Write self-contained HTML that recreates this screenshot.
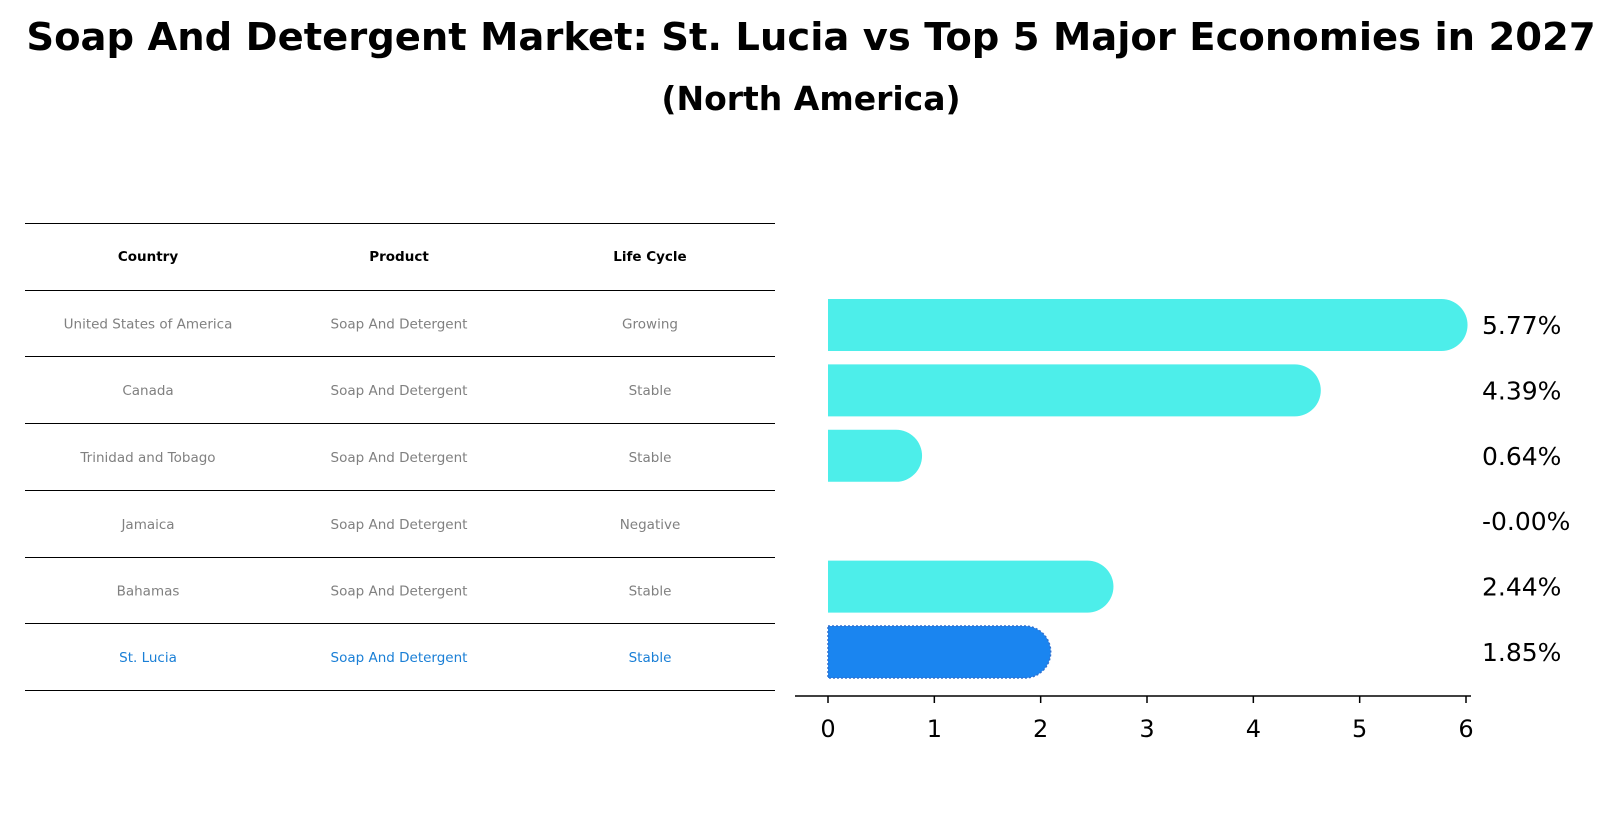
<!DOCTYPE html>
<html><head><meta charset="utf-8">
<style>
body{margin:0;background:#fff;font-family:"Liberation Sans","DejaVu Sans",sans-serif;}
#wrap{position:relative;width:1622px;height:823px;overflow:hidden;}
</style></head>
<body>
<div id="wrap">
<svg id="svg" width="1622" height="823" style="font-family:'DejaVu Sans','Liberation Sans',sans-serif">
<text x="811" y="50" text-anchor="middle" font-size="38.5" font-weight="bold">Soap And Detergent Market: St. Lucia vs Top 5 Major Economies in 2027</text>
<text x="811" y="110" text-anchor="middle" font-size="33" font-weight="bold">(North America)</text>
<g id="table"></g>
<g id="bars"></g>
</svg>
</div>
<script>
const countries=["United States of America","Canada","Trinidad and Tobago","Jamaica","Bahamas","St. Lucia"];
const products=["Soap And Detergent","Soap And Detergent","Soap And Detergent","Soap And Detergent","Soap And Detergent","Soap And Detergent"];
const lifeCycles=["Growing","Stable","Stable","Negative","Stable","Stable"];
const values=[5.77,4.39,0.64,-0.0,2.44,1.85];
const valueLabels=["5.77%","4.39%","0.64%","-0.00%","2.44%","1.85%"];
const ticks=[0,1,2,3,4,5,6];
const NS="http://www.w3.org/2000/svg";
function mk(tag,attrs,parent,text){const e=document.createElementNS(NS,tag);for(const k in attrs)e.setAttribute(k,attrs[k]);if(text!==undefined)e.textContent=text;parent.appendChild(e);return e;}
// table
const tg=document.getElementById('table');
const colX=[148,399,650];
const lineYs=[223.5,290.5,356.5,423.5,490.5,557.5,623.5,690.5];
for(let i=0;i<lineYs.length;i++){
 const l=mk('line',{x1:25,x2:775,y1:lineYs[i],y2:lineYs[i],stroke:'#000','stroke-width':1},tg);
 
 
}
["Country","Product","Life Cycle"].forEach((h,j)=>{
 const t=mk('text',{x:colX[j],y:261,'text-anchor':'middle','font-size':13.5,'font-weight':'bold'},tg,h);
 
 
});
countries.forEach((c,i)=>{
 const y=(lineYs[i+1]+lineYs[i+2])/2+5;
 const col=i===countries.length-1?'#1a7fd6':'#808080';
 [c,products[i],lifeCycles[i]].forEach((v,j)=>{
  const t=mk('text',{x:colX[j],y:y,'text-anchor':'middle','font-size':13.5,fill:col},tg,v);
  
  
 });
});
// bars
const bg=document.getElementById('bars');
const x0=828,pxPer=(1466-828)/6;
const xs=v=>x0+v*pxPer;
const rowY=i=>325+i*65.4;
const bh=52;
values.forEach((v,i)=>{
 const cy=rowY(i);
 const last=i===values.length-1;
 const fill=last?'#1a85f0':'#4deeea';
 if(Math.abs(v)>0.005){
  const w=xs(v)-x0;
  const p=mk('path',{d:`M${x0},${cy-bh/2} H${x0+w} A${bh/2},${bh/2} 0 0 1 ${x0+w},${cy+bh/2} H${x0} Z`,fill:fill},bg);
  if(last){p.setAttribute('stroke','#3070d0');p.setAttribute('stroke-dasharray','2,2');p.setAttribute('stroke-width','1.5');}
  
  
 }
 const t=mk('text',{x:1482,y:cy+9,'font-size':25},bg,valueLabels[i]);
 
 
});
const ax=mk('line',{x1:795,x2:1471,y1:696,y2:696,stroke:'#000','stroke-width':1.5},bg);


ticks.forEach(t=>{
 const tl=mk('line',{x1:xs(t),x2:xs(t),y1:696,y2:703,stroke:'#000','stroke-width':1.5},bg);
 
 
 const tt=mk('text',{x:xs(t),y:737,'text-anchor':'middle','font-size':24},bg,String(t));
 
 
});
</script>
</body></html>
